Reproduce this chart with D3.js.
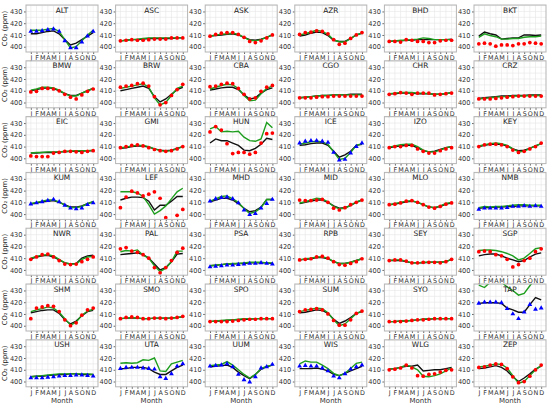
<!DOCTYPE html>
<html><head><meta charset="utf-8">
<script src="https://cdn.jsdelivr.net/npm/d3@7"></script>
<style>body{margin:0;background:#fff}svg{display:block}text{font-family:"DejaVu Sans",sans-serif}</style>
</head><body><svg id="c" width="550" height="408"></svg>
<script>
const months = ["J","F","M","A","M","J","J","A","S","O","N","D"];
const yTicks = [400,410,420,430];
const stations = ["ALT","ASC","ASK","AZR","BHD","BKT","BMW","BRW","CBA","CGO","CHR","CRZ","EIC","GMI","HUN","ICE","IZO","KEY","KUM","LEF","MHD","MID","MLO","NMB","NWR","PAL","PSA","RPB","SEY","SGP","SHM","SMO","SPO","SUM","SYO","TAP","USH","UTA","UUM","WIS","WLG","ZEP"];
const obsType = ["b","r","r","r","r","r","r","r","r","r","r","r","r","r","r","b","r","r","b","r","b","r","r","b","r","r","b","r","r","r","r","r","r","r","r","b","b","b","b","b","r","r"];
const observed = [
[413,413,413.5,414.5,415,413,405,399,399,404,409,413],
[405,405.5,406,405.5,405.5,406,406.5,406.5,406.5,407.5,407.5,407.5],
[409,410.5,411.5,412,412,410.5,408,404.5,403.5,405,407.5,410],
[410.5,412,412.5,413.5,413,411,406,402,403,407,410,412],
[404.5,404.5,404,406,405.5,404.5,404.5,403.5,403.5,405,405.5,405.5],
[402.5,403,402.5,400.5,401.5,401.5,401,402.5,402.5,403.5,403,402.5],
[409,409.5,412,412,411.5,410,407,404.5,403,406.5,409.5,411.5],
[413,414,414.5,416,416.5,414,405,398,400,406,411,415.5],
[413.5,414,415.5,416.5,416,412,407,403,404,409.5,413,414.5],
[404,404,404,404.5,405,405,405.5,405.5,405.5,405.5,405.5,405.5],
[407,407.5,408.5,408,407,408,408,408,406.5,407,407.5,408],
[403,403,403,403.5,404,404.5,405,405.5,405.5,405.5,405.5,405.5],
[402,401.5,401.5,401.5,404.5,405,406,406,405.5,405,406,406.5],
[409,410,411,411.5,410.5,409,407.5,406.5,406,406.5,408,410],
[422.5,427,424,412.5,404,405,405,403.5,405,413,421,421.5],
[413,414.5,415,415,414.5,413.5,405,398.5,399,404.5,410,413],
[409,410,410,411,411,408,406,404.5,404.5,406.5,408,409],
[410,411.5,412,412,411.5,410,407,405,406,408,410,413],
[408.5,409.5,410.5,411.5,412.5,410.5,407.5,405,404.5,405,408,409.5],
[405.5,414.5,419.5,418,415.5,417,419,413.5,397,null,399,404],
[411,413,414,414.5,413,409.5,403.5,399.5,400.5,405,409,412.5],
[412,411.5,411.5,412,412.5,410,405,403.5,405.5,408,410,412],
[408,408.5,409.5,411,411.5,410,408,406,405,406.5,408.5,409.5],
[404,405,405,405,405,405.5,406.5,406.5,407,406.5,407,406.5],
[409,411,413,413.5,411,408,405,404.5,405,407,409,411],
[418,419,416,415,413,410,402,397.5,402,408,415,418.5],
[402.5,403,403.5,404,404,404.5,405,405.5,405.5,406,405.5,405],
[408.5,409,409.5,411,411.5,410,407,404.5,404,405.5,407,409.5],
[408,408.5,408.5,407.5,406,406,406.5,406.5,406.5,406,407,409],
[415.5,416,415.5,413,412,409,402.5,404.5,408,410,415.5,418],
[406,415,416,417,416.5,412,405,400,402.5,409,413.5,415],
[406,407,407.5,407,406,406,406.5,406.5,406,406.5,407,408],
[403.5,403.5,403.5,403.5,404,404.5,405,405.5,405.5,406,406,406],
[412,413.5,414,414.5,413.5,410,404.5,400.5,400.5,405,410.5,412.5],
[403.5,403.5,403.5,404,404.5,405,405,405.5,406,406,406,406],
[419,420,420,420,419.5,414.5,410,406,411.5,418,414,415],
[403,403,403,403.5,404,404.5,405,405,405.5,405.5,405,404.5],
[411,412,412,412,411.5,411,410.5,404,402.5,406.5,413,415],
[413,413.5,414,415,412.5,406,401.5,399.5,404,411.5,412.5,414.5],
[413,413.5,413,413,411.5,409,404.5,403,406.5,410.5,412.5,414],
[410,410.5,411.5,414,411.5,405,404.5,406,406.5,408,409.5,410],
[412,412.5,414,415,414.5,411,404,399,400,404.5,410,414]
];
const modelBlack = [
[411,411,412,413,413.5,411,406,401.5,403,406,409,412],
[405,405.5,406,406,406.5,407,407,407,407,407,407.5,407.5],
[409,409.5,410,410.5,411,410,408,406,405.5,406.5,408,410],
[409,410,411.5,412.5,412,409.5,405.5,404.5,404.5,407,410,411.5],
[404.5,405,405,405.5,405.5,406,406,406,406,406,406,406.5],
[409,412.5,411,410,406.5,407,407.5,407.5,410,410,409.5,410],
[410,411,412,412.5,412,410,407.5,406,406,408,410,412],
[410,411,412,413,414,412,405,400.5,403,407,411,413],
[410.5,411.5,412.5,413,413,411,406.5,403,404,408,411,412.5],
[404,404.5,405,405.5,406,406,406.5,406.5,406.5,407,407,407],
[407.5,407.5,408,408,408,407.5,407.5,407.5,407,407,407.5,408.5],
[403.5,404,404.5,405,405.5,405.5,406,406,406,406.5,406.5,406.5],
[404.5,404.5,405,405,405,405.5,405.5,406,406,406,406.5,406.5],
[408.5,409,410,410.5,410.5,409.5,408,407,406.5,407,408.5,410],
[413,416.5,415,415,413,411,407,406.5,408.5,412,417,416],
[411,411.5,412.5,413,413,411,406,401,403,406,411,412],
[409,410,410.5,411,411,409,406.5,405.5,406,407.5,409,410],
[410,411,412,412,412,410.5,408,406.5,407,408.5,410.5,412.5],
[408.5,409.5,410.5,411,411.5,410,408,406,406,407,409,410.5],
[412,413.5,414.5,414.5,414,411,403.5,407.5,407.5,411,415,415],
[410.5,412,413.5,413.5,412,409,405,402,403,406,412.5,412.5],
[409,410,411,412,412,410,407,405,405.5,407.5,410,412],
[408,408.5,409.5,410.5,411,410,408,406,405.5,406.5,408.5,409.5],
[405,405.5,405.5,406,406,406.5,406.5,407,407,407,407,407],
[409.5,411,412,412.5,411,408.5,406,405,405.5,410,412,412.5],
[413,413.5,414,414.5,413,410,405,400,402,407,413.5,414],
[403.5,404,404.5,405,405,405.5,405.5,406,406,406,406,405.5],
[408.5,409,409.5,410.5,410.5,409.5,407,405.5,405.5,406.5,408,409.5],
[408,408,408,407,406,406,406,406.5,406.5,406.5,407,409],
[412,413,413.5,413.5,412,410,408.5,407,408,411,413.5,414.5],
[411,412,413,413.5,413.5,410.5,405,401.5,404,408.5,412,413],
[406,406.5,406.5,406.5,406,406,406.5,406.5,406.5,406.5,407,407.5],
[403.5,404,404,404.5,405,405,405.5,405.5,406,406,406,406],
[411,411.5,412.5,413.5,413,410.5,405.5,402,404,407,410.5,412],
[403.5,403.5,404,404,404.5,405,405.5,405.5,406,406,406,406],
[419,419.5,419.5,419.5,419,415,413.5,411.5,411.5,418,424,422],
[404,404.5,404.5,405,405.5,406,406,406.5,406.5,406,406,406],
[411,411,412,412,412,411,408,406,406,409,412,414],
[412.5,413,413.5,414,412,408,405,402.5,406,410.5,412.5,414],
[411,411,411,411.5,410.5,409,406,405,407,409,411,413],
[410.5,411,412,413,413,414,409,409.5,410,410,411,412],
[411,411.5,412.5,413.5,412,409,404,400,403,406.5,410.5,413]
];
const modelGreen = [
[414,414,414,415,415.5,413,406,399,400,405,410,414],
[405,405.5,406,406.5,407,407.5,407.5,407.5,407.5,407.5,407.5,407.5],
[409,410,410.5,411,411.5,410.5,408,405.5,405,406,408,410],
[410,411,412.5,414,413,410.5,406,404,404,407,410,411.5],
[404.5,405,405.5,405.5,406,406.5,407.5,407,406,406,406,406],
[408,411,409.5,408.5,406.5,406.5,407,407,408,408.5,408.5,409],
[410.5,411.5,413,413,412.5,410.5,407.5,405.5,405.5,408,410,412],
[412,413,414,415,416,413,404,398,400,406,412,414],
[411.5,413,414.5,415.5,415,412,406,401.5,402,407.5,412,414],
[404,404.5,405,405.5,406,406,406.5,406.5,406.5,406.5,406.5,406.5],
[407.5,408,408.5,408.5,408.5,408,408,407.5,407,407,407.5,408.5],
[403,403.5,404,404.5,405,405,405.5,405.5,405.5,406,406,406],
[404.5,405,405,405.5,405.5,405.5,406,406,406.5,406.5,406.5,407],
[409,409.5,410.5,411,411,410,408,406.5,406,406.5,408,410],
[425,427,422.5,423,422.5,423,418,415,414.5,416.5,430.5,426],
[412,413,414,414.5,414,412,405.5,399,400,405,411,412.5],
[409.5,410.5,411.5,412,412,410,407,405.5,405.5,407,409,410],
[410.5,411.5,412.5,413,412.5,411,408,405.5,406,408.5,410.5,412.5],
[409,410,411,412,412,410.5,407.5,405.5,405.5,406.5,409,410.5],
[419,419,419,418,415,408,400,403,407,413,419,422],
[411,413,415,415.5,413,410,404.5,400.5,402,405.5,412.5,412.5],
[409.5,410.5,412,413.5,413,410.5,406.5,404.5,405,407.5,410.5,412],
[408,409,410,411,411.5,410,408,406,405.5,407,409,410],
[405.5,406.5,406,406.5,406.5,407,407.5,408,408,407.5,407.5,407.5],
[410,411.5,412.5,413,412,409,406,405,405,409,411,411.5],
[415.5,416.5,416,417,412.5,410,403.5,398.5,401.5,407,416,416],
[403.5,404,404.5,405,405.5,405.5,406,406.5,406.5,406.5,406,406],
[408.5,409.5,410,411,411,410,407,405.5,405.5,406.5,408,409.5],
[408,408.5,408.5,407.5,406,406,406.5,406.5,406.5,406.5,407,409],
[416.5,417,417,416.5,415.5,414,412,408.5,410,414,418,419],
[412,413.5,414.5,416,415,411.5,406,400.5,403,409,412.5,414],
[406,406.5,407,406.5,406,406,406.5,406.5,406.5,406.5,407,407.5],
[403.5,404,404.5,405,405,405.5,406,406,406,406,406,406],
[412,413,414,415,414.5,411,405,400,401.5,406,410.5,412.5],
[403.5,403.5,404,404,404.5,405,405.5,406,406,406,406,406],
[434.5,432.5,437,438,437,433,430,426,427.5,434,440,438],
[404,404.5,405,405.5,406,406.5,406.5,406.5,406.5,406.5,406.5,406],
[415.5,416,415.5,416,418.5,418,420,409,408.5,415,416.5,418],
[413.5,414,414.5,417,414,410,406,403,406,411,413,414],
[415,417.5,416.5,416.5,414,411,407,405,407,411,415.5,416.5],
[410.5,411,412,414,412.5,410,404.5,404,405,406.5,409,411.5],
[412.5,413,414,415,414.5,411.5,405,398.5,400,405,410,413.5]
];

const nCols = 6, left0 = 26, colPitch = 89.6, boxW = 72;
const top0 = 5, rowPitch = 55.8, boxH = 47;
const svg = d3.select("#c");
const x = d3.scaleLinear().domain([-0.85, 11.85]).range([0, boxW]);
const y = d3.scaleLinear().domain([395.5, 435.5]).range([boxH, 0]);
const nRows = Math.ceil(stations.length / nCols);

stations.forEach((name, i) => {
  const col = i % nCols, row = Math.floor(i / nCols);
  const g = svg.append("g").attr("transform", `translate(${left0 + col*colPitch},${top0 + row*rowPitch})`);
  g.append("clipPath").attr("id", "cp" + i).append("rect").attr("width", boxW).attr("height", boxH);
  const grid = g.append("g");
  grid.selectAll("line.v").data(d3.range(12)).join("line")
    .attr("x1", d => x(d)).attr("x2", d => x(d)).attr("y1", 0).attr("y2", boxH)
    .attr("stroke", "#e6e6e6").attr("stroke-width", 0.6);
  grid.selectAll("line.h").data(d3.range(400, 436, 5)).join("line")
    .attr("x1", 0).attr("x2", boxW).attr("y1", d => y(d)).attr("y2", d => y(d))
    .attr("stroke", "#e6e6e6").attr("stroke-width", 0.6);
  const ya = g.append("g").call(d3.axisLeft(y).tickValues(yTicks).tickSize(2).tickPadding(1.5));
  ya.select(".domain").remove();
  ya.selectAll("line").attr("stroke", "#666");
  ya.selectAll("text").attr("font-size", 6.6).attr("fill", "#333").attr("font-family", "DejaVu Sans");
  const xa = g.append("g").attr("transform", `translate(0,${boxH})`)
    .call(d3.axisBottom(x).tickValues(d3.range(12)).tickFormat(d => months[d]).tickSize(2).tickPadding(1.5));
  xa.select(".domain").remove();
  xa.selectAll("line").attr("stroke", "#666");
  xa.selectAll("text").attr("font-size", 6.4).attr("fill", "#333").attr("font-family", "DejaVu Sans");
  const plot = g.append("g").attr("clip-path", `url(#cp${i})`);
  const line = d3.line().defined(d => d != null).x((d, k) => x(k)).y(d => y(d));
  plot.append("path").attr("d", line(modelBlack[i])).attr("fill", "none").attr("stroke", "#111").attr("stroke-width", 1.4);
  plot.append("path").attr("d", line(modelGreen[i])).attr("fill", "none").attr("stroke", "#1e9e1e").attr("stroke-width", 1.4);
  const pts = observed[i].map((v, k) => ({k, v})).filter(d => d.v != null);
  const blue = obsType[i] === "b";
  plot.selectAll("path.m").data(pts).join("path")
    .attr("transform", d => `translate(${x(d.k)},${y(d.v)})`)
    .attr("d", d3.symbol().type(blue ? d3.symbolTriangle : d3.symbolCircle).size(blue ? 10 : 11)())
    .attr("fill", blue ? "#0000ff" : "#ff0000");
  g.append("rect").attr("width", boxW).attr("height", boxH).attr("fill", "none").attr("stroke", "#b5b5b5").attr("stroke-width", 1);
  g.append("text").attr("x", boxW/2).attr("y", 7.5).attr("text-anchor", "middle")
    .attr("font-size", 7.4).attr("fill", "#222").text(name);
  if (col === 0) {
    g.append("text").attr("transform", `translate(${-19.5},${boxH/2}) rotate(-90)`)
      .attr("text-anchor", "middle").attr("font-size", 6.8).attr("fill", "#222").text("CO\u2082 (ppm)");
  }
  if (row === nRows - 1) {
    g.append("text").attr("x", boxW/2).attr("y", boxH + 16.5).attr("text-anchor", "middle")
      .attr("font-size", 7).attr("fill", "#333").text("Month");
  }
});
</script></body></html>
